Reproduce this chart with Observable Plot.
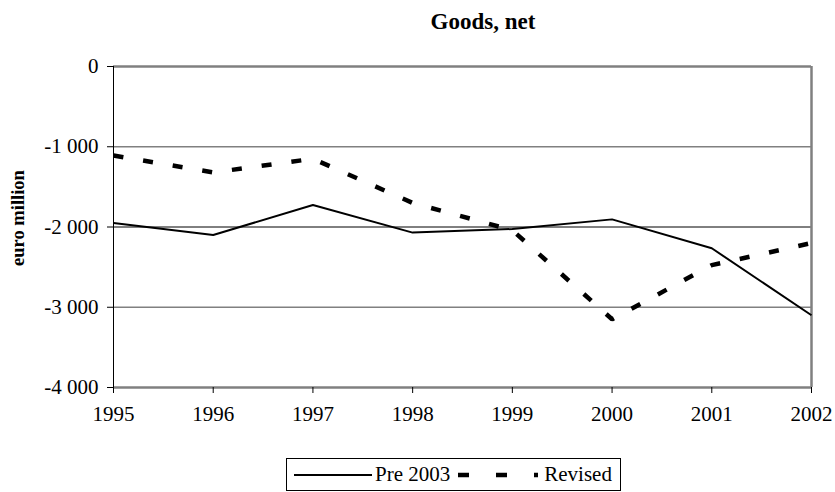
<!DOCTYPE html>
<html>
<head>
<meta charset="utf-8">
<script src="https://cdn.jsdelivr.net/npm/d3@7"></script>
<script src="https://cdn.jsdelivr.net/npm/@observablehq/plot@0.6"></script>
<style>
  html, body { margin: 0; padding: 0; background: #fff; }
  #wrap { position: relative; width: 835px; height: 492px; font-family: "Liberation Serif", "Times New Roman", "DejaVu Serif", serif; color: #000; overflow: hidden; }
  #title { position: absolute; top: 10px; left: 483px; transform: translateX(-50%); font-size: 23px; font-weight: bold; line-height: 1; white-space: nowrap; }
  #ylab { position: absolute; left: 18px; top: 218px; transform: translate(-50%, -50%) rotate(-90deg); font-size: 18.5px; font-weight: bold; white-space: nowrap; line-height: 1; }
  #chart { position: absolute; left: 0; top: 50px; }
  #chart svg, #chart svg text { font-family: "Liberation Serif", "Times New Roman", serif !important; }
  #legend { position: absolute; left: 286px; top: 458px; width: 333px; height: 31px; border: 1px solid #000; display: flex; align-items: center; font-size: 21px; line-height: 1; white-space: nowrap; font-family: "Liberation Serif", "Times New Roman", serif; }
  #legend svg { display: block; }
</style>
</head>
<body>
<div id="wrap">
  <div id="title">Goods, net</div>
  <div id="ylab">euro million</div>
  <div id="chart"></div>
  <div id="legend"></div>
</div>
<script>
const years = [1995, 1996, 1997, 1998, 1999, 2000, 2001, 2002];
const pre2003 = [-1950, -2100, -1725, -2070, -2025, -1905, -2265, -3100];
const revised = [-1110, -1320, -1150, -1700, -2040, -3150, -2475, -2200];
const yTicks = [0, -1000, -2000, -3000, -4000];
const gridLight = [-1000, -3000];
const gridDark = [-2000];
const seriesNames = ["Pre 2003", "Revised"];

const serif = "'Liberation Serif', 'Times New Roman', serif";
const loc = d3.formatLocale({decimal: ".", thousands: " ", grouping: [3], currency: ["", ""], minus: "-"});
const fmt = loc.format(",d");

const rowsP = years.map((y, i) => ({year: y, value: pre2003[i], series: seriesNames[0]}));
const rowsR = years.map((y, i) => ({year: y, value: revised[i], series: seriesNames[1]}));

const chart = Plot.plot({
  width: 835,
  height: 380,
  marginLeft: 113,
  marginRight: 24,
  marginTop: 16,
  marginBottom: 43,
  style: {fontFamily: serif, fontSize: "21px", background: "transparent", color: "#000", overflow: "visible"},
  x: {type: "linear", domain: [1995, 2002]},
  y: {domain: [-4000, 0]},
  marks: [
    Plot.ruleY(gridLight, {stroke: "#808080", strokeWidth: 1.5}),
    Plot.ruleY(gridDark, {stroke: "#000", strokeWidth: 1}),
    Plot.ruleY([0], {stroke: "#808080", strokeWidth: 2.5}),
    Plot.ruleY([-4000], {stroke: "#808080", strokeWidth: 2.5}),
    Plot.ruleX([2002], {stroke: "#808080", strokeWidth: 2.5}),
    Plot.ruleX([1995], {stroke: "#000", strokeWidth: 1}),
    Plot.axisX({ticks: years, tickFormat: d => String(d), tickSize: 6, tickPadding: 13, fontSize: 21, fontFamily: serif, label: null, stroke: "#000"}),
    Plot.axisY({ticks: yTicks, tickFormat: d => fmt(d), tickSize: 6, tickPadding: 9, fontSize: 21, fontFamily: serif, label: null, stroke: "#000"}),
    Plot.line(rowsP, {x: "year", y: "value", stroke: "#000", strokeWidth: 2, strokeLinejoin: "miter", strokeLinecap: "butt"}),
    Plot.line(rowsR, {x: "year", y: "value", stroke: "#000", strokeWidth: 4.5, strokeDasharray: "10,20", strokeLinejoin: "miter", strokeLinecap: "butt"})
  ]
});
document.getElementById("chart").appendChild(chart);

// legend (HTML, outside the SVG)
const legend = d3.select("#legend");
const s1 = legend.append("svg").attr("width", 78).attr("height", 10).style("margin-left", "7px").style("margin-right", "3px");
s1.append("line").attr("x1", 0).attr("x2", 78).attr("y1", 5).attr("y2", 5)
  .attr("stroke", "#000").attr("stroke-width", 2);
legend.append("span").text(seriesNames[0]);
const s2 = legend.append("svg").attr("width", 80).attr("height", 10).style("margin-left", "8px").style("margin-right", "6px");
s2.append("line").attr("x1", 0).attr("x2", 80).attr("y1", 5).attr("y2", 5)
  .attr("stroke", "#000").attr("stroke-width", 4.5).attr("stroke-dasharray", "11,27");
legend.append("span").text(seriesNames[1]);
</script>
</body>
</html>
